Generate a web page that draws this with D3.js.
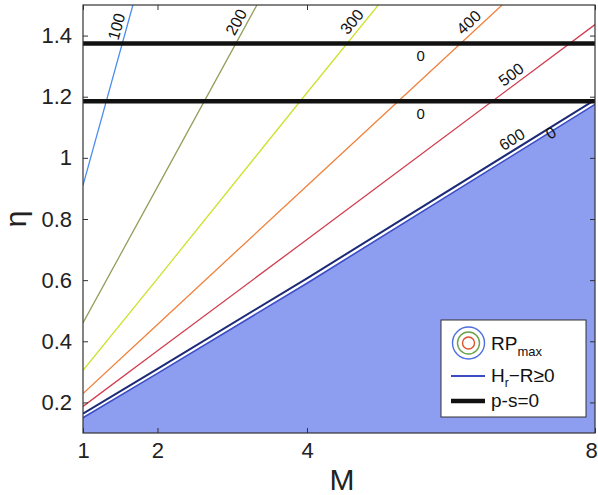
<!DOCTYPE html>
<html>
<head>
<meta charset="utf-8">
<script src="https://cdn.jsdelivr.net/npm/d3@7/dist/d3.min.js"></script>
<style>
body { margin: 0; background: #fff; }
svg { display: block; font-family: "Liberation Sans", Arial, Helvetica, sans-serif; }
</style>
</head>
<body>
<div id="root"></div>
<script>
// tick values
var xTicks = [1, 2, 4, 8];
var yTicks = [0.2, 0.4, 0.6, 0.8, 1, 1.2, 1.4];

// RP_max contours
var levels = [100, 200, 300, 400, 500, 600];
var levelColors = ['#4a8cf2', '#939f5c', '#cde22e', '#f2813c', '#d23d50', '#1c2a78'];
var levelM = [[1, 1.67], [1, 2, 3.33], [1, 2, 4, 4.99], [1, 2, 4, 6.71], [1, 2, 4, 8], [1, 2, 4, 8]];
var levelEta = [[0.91, 1.5], [0.46, 0.905, 1.5], [0.305, 0.605, 1.213, 1.5], [0.229, 0.455, 0.909, 1.5], [0.187, 0.369, 0.733, 1.436], [0.163, 0.31, 0.606, 1.19]];
var levelLabelM = [1.58, 3.17, 4.73, 6.34, 6.92, 6.92];

// H_r - R = 0 boundary
var hrM = [1, 2, 4, 8];
var hrEta = [0.15, 0.295, 0.59, 1.175];
var hrLabelM = 7.38;

// p - s = 0 lines
var psEta = [1.374, 1.185];
var psLabelM = 5.58;

var width = 598, height = 495;
var margin = {top: 5, right: 3, bottom: 62, left: 83};
var w = width - margin.left - margin.right;
var h = height - margin.top - margin.bottom;

var svg = d3.select('#root').append('svg')
  .attr('width', width)
  .attr('height', height);

var g = svg.append('g')
  .attr('transform', 'translate(' + margin.left + ',' + margin.top + ')');

// the M axis is not evenly spaced in the original
var x = d3.scaleLinear()
  .domain(xTicks)
  .range([0, 0.1455 * w, 0.4375 * w, w]);
var y = d3.scaleLinear()
  .domain([0.1, 1.5])
  .range([h, 0]);

svg.append('clipPath').attr('id', 'clip')
  .append('rect').attr('width', w).attr('height', h);

var plot = g.append('g').attr('clip-path', 'url(#clip)');

var hrData = hrM.map(function(m, i) { return [m, hrEta[i]]; });

// filled region H_r - R >= 0
plot.append('path')
  .datum(hrData)
  .attr('d', d3.area()
    .x(function(d) { return x(d[0]); })
    .y0(h)
    .y1(function(d) { return y(d[1]); }))
  .attr('fill', '#8d9df0');

plot.append('path')
  .datum(hrData)
  .attr('d', d3.line()
    .x(function(d) { return x(d[0]); })
    .y(function(d) { return y(d[1]); }))
  .attr('fill', 'none')
  .attr('stroke', '#3b4ec6')
  .attr('stroke-width', 1.6);

// contours
levels.forEach(function(lv, k) {
  var pts = levelM[k].map(function(m, i) { return [m, levelEta[k][i]]; });
  plot.append('path')
    .datum(pts)
    .attr('d', d3.line()
      .x(function(d) { return x(d[0]); })
      .y(function(d) { return y(d[1]); }))
    .attr('fill', 'none')
    .attr('stroke', levelColors[k])
    .attr('stroke-width', k == 5 ? 2 : 1.3);
});

// p - s = 0
plot.selectAll('line.ps')
  .data(psEta)
  .enter()
  .append('line')
  .attr('class', 'ps')
  .attr('x1', 0)
  .attr('x2', w)
  .attr('y1', function(d) { return y(d); })
  .attr('y2', function(d) { return y(d); })
  .attr('stroke', '#111')
  .attr('stroke-width', 4.5);

// position on a polyline at a given M, with slope angle
var pointAt = function(ms, es, m) {
  var px = x(m);
  for (var i = 0; i < ms.length - 1; i++) {
    var x0 = x(ms[i]), x1 = x(ms[i + 1]);
    if (px >= x0 && px <= x1) {
      var y0 = y(es[i]), y1 = y(es[i + 1]);
      var t = (px - x0) / (x1 - x0);
      var len = Math.sqrt((x1 - x0) * (x1 - x0) + (y1 - y0) * (y1 - y0));
      return {
        x: px, y: y0 + t * (y1 - y0),
        ux: (x1 - x0) / len, uy: (y1 - y0) / len,
        angle: Math.atan2(y1 - y0, x1 - x0) * 180 / Math.PI
      };
    }
  }
  return null;
};

var labelGap = 10;
var labels = levels.map(function(lv, k) {
  var p = pointAt(levelM[k], levelEta[k], levelLabelM[k]);
  return {text: String(lv), x: p.x + p.uy * labelGap, y: p.y - p.ux * labelGap, angle: p.angle};
});
var ph = pointAt(hrM, hrEta, hrLabelM);
labels.push({text: '0', x: ph.x - ph.uy * 1, y: ph.y + ph.ux * 1, angle: ph.angle});

g.selectAll('text.clabel')
  .data(labels)
  .enter()
  .append('text')
  .attr('class', 'clabel')
  .attr('transform', function(d) {
    return 'translate(' + d.x + ',' + d.y + ') rotate(' + d.angle + ')';
  })
  .attr('text-anchor', 'middle')
  .attr('dominant-baseline', 'central')
  .attr('font-size', 16)
  .attr('fill', '#111')
  .text(function(d) { return d.text; });

g.selectAll('text.pslabel')
  .data(psEta)
  .enter()
  .append('text')
  .attr('class', 'pslabel')
  .attr('x', x(psLabelM))
  .attr('y', function(d) { return y(d) + 12; })
  .attr('text-anchor', 'middle')
  .attr('dominant-baseline', 'central')
  .attr('font-size', 15)
  .attr('fill', '#111')
  .text('0');

// axes
var yFmt = function(d) { return String(+d.toFixed(1)); };
var xa = g.append('g')
  .attr('transform', 'translate(0,' + h + ')')
  .call(d3.axisBottom(x).tickValues(xTicks).tickFormat(d3.format('d')).tickSize(-5).tickPadding(9));
var ya = g.append('g')
  .call(d3.axisLeft(y).tickValues(yTicks).tickFormat(yFmt).tickSize(-5).tickPadding(11));
var xt = g.append('g')
  .call(d3.axisTop(x).tickValues(xTicks).tickSize(-5).tickFormat(''));
var yr = g.append('g')
  .attr('transform', 'translate(' + w + ',0)')
  .call(d3.axisRight(y).tickValues(yTicks).tickSize(-5).tickFormat(''));
[xa, ya, xt, yr].forEach(function(a) {
  a.select('.domain').remove();
  a.selectAll('.tick line').attr('stroke', '#333');
  a.selectAll('.tick text')
    .attr('font-size', 22)
    .attr('font-family', '"Liberation Sans", Arial, sans-serif')
    .attr('fill', '#222');
});
// keep the last M label inside the page
xa.selectAll('.tick text').filter(function(d) { return d == 8; }).attr('dx', -4);

g.append('rect')
  .attr('width', w)
  .attr('height', h)
  .attr('fill', 'none')
  .attr('stroke', '#333')
  .attr('stroke-width', 1.2);

svg.append('text')
  .attr('x', margin.left + w / 2 + 3)
  .attr('y', 490)
  .attr('text-anchor', 'middle')
  .attr('font-size', 30)
  .attr('fill', '#222')
  .text('M');

svg.append('text')
  .attr('transform', 'translate(26,' + (margin.top + h / 2) + ') rotate(-90)')
  .attr('text-anchor', 'middle')
  .attr('font-size', 30)
  .attr('fill', '#222')
  .text('η');

// legend
var lg = svg.append('g').attr('transform', 'translate(441,320)');
lg.append('rect')
  .attr('width', 145)
  .attr('height', 97)
  .attr('fill', '#fff')
  .attr('stroke', '#333')
  .attr('stroke-width', 1);
lg.selectAll('circle')
  .data([16, 11, 6])
  .enter()
  .append('circle')
  .attr('cx', 27.5)
  .attr('cy', 23)
  .attr('r', function(d) { return d; })
  .attr('fill', 'none')
  .attr('stroke', function(d, i) { return ['#4f6ee0', '#6aa24a', '#e0502e'][i]; })
  .attr('stroke-width', 1.4);
var t1 = lg.append('text').attr('x', 50).attr('y', 30).attr('font-size', 19).attr('fill', '#111');
t1.append('tspan').text('RP');
t1.append('tspan').attr('font-size', 13).attr('dy', 6).text('max');

lg.append('line')
  .attr('x1', 10).attr('x2', 44).attr('y1', 56).attr('y2', 56)
  .attr('stroke', '#3b4ec6').attr('stroke-width', 1.8);
var t2 = lg.append('text').attr('x', 50).attr('y', 62).attr('font-size', 19).attr('fill', '#111');
t2.append('tspan').text('H');
t2.append('tspan').attr('font-size', 12).attr('dy', 5).text('r');
t2.append('tspan').attr('dy', -5).text('\u2212R\u22650');

lg.append('line')
  .attr('x1', 10).attr('x2', 44).attr('y1', 81).attr('y2', 81)
  .attr('stroke', '#111').attr('stroke-width', 4.5);
lg.append('text').attr('x', 50).attr('y', 87).attr('font-size', 19).attr('fill', '#111').text('p-s=0');
</script>
</body>
</html>
